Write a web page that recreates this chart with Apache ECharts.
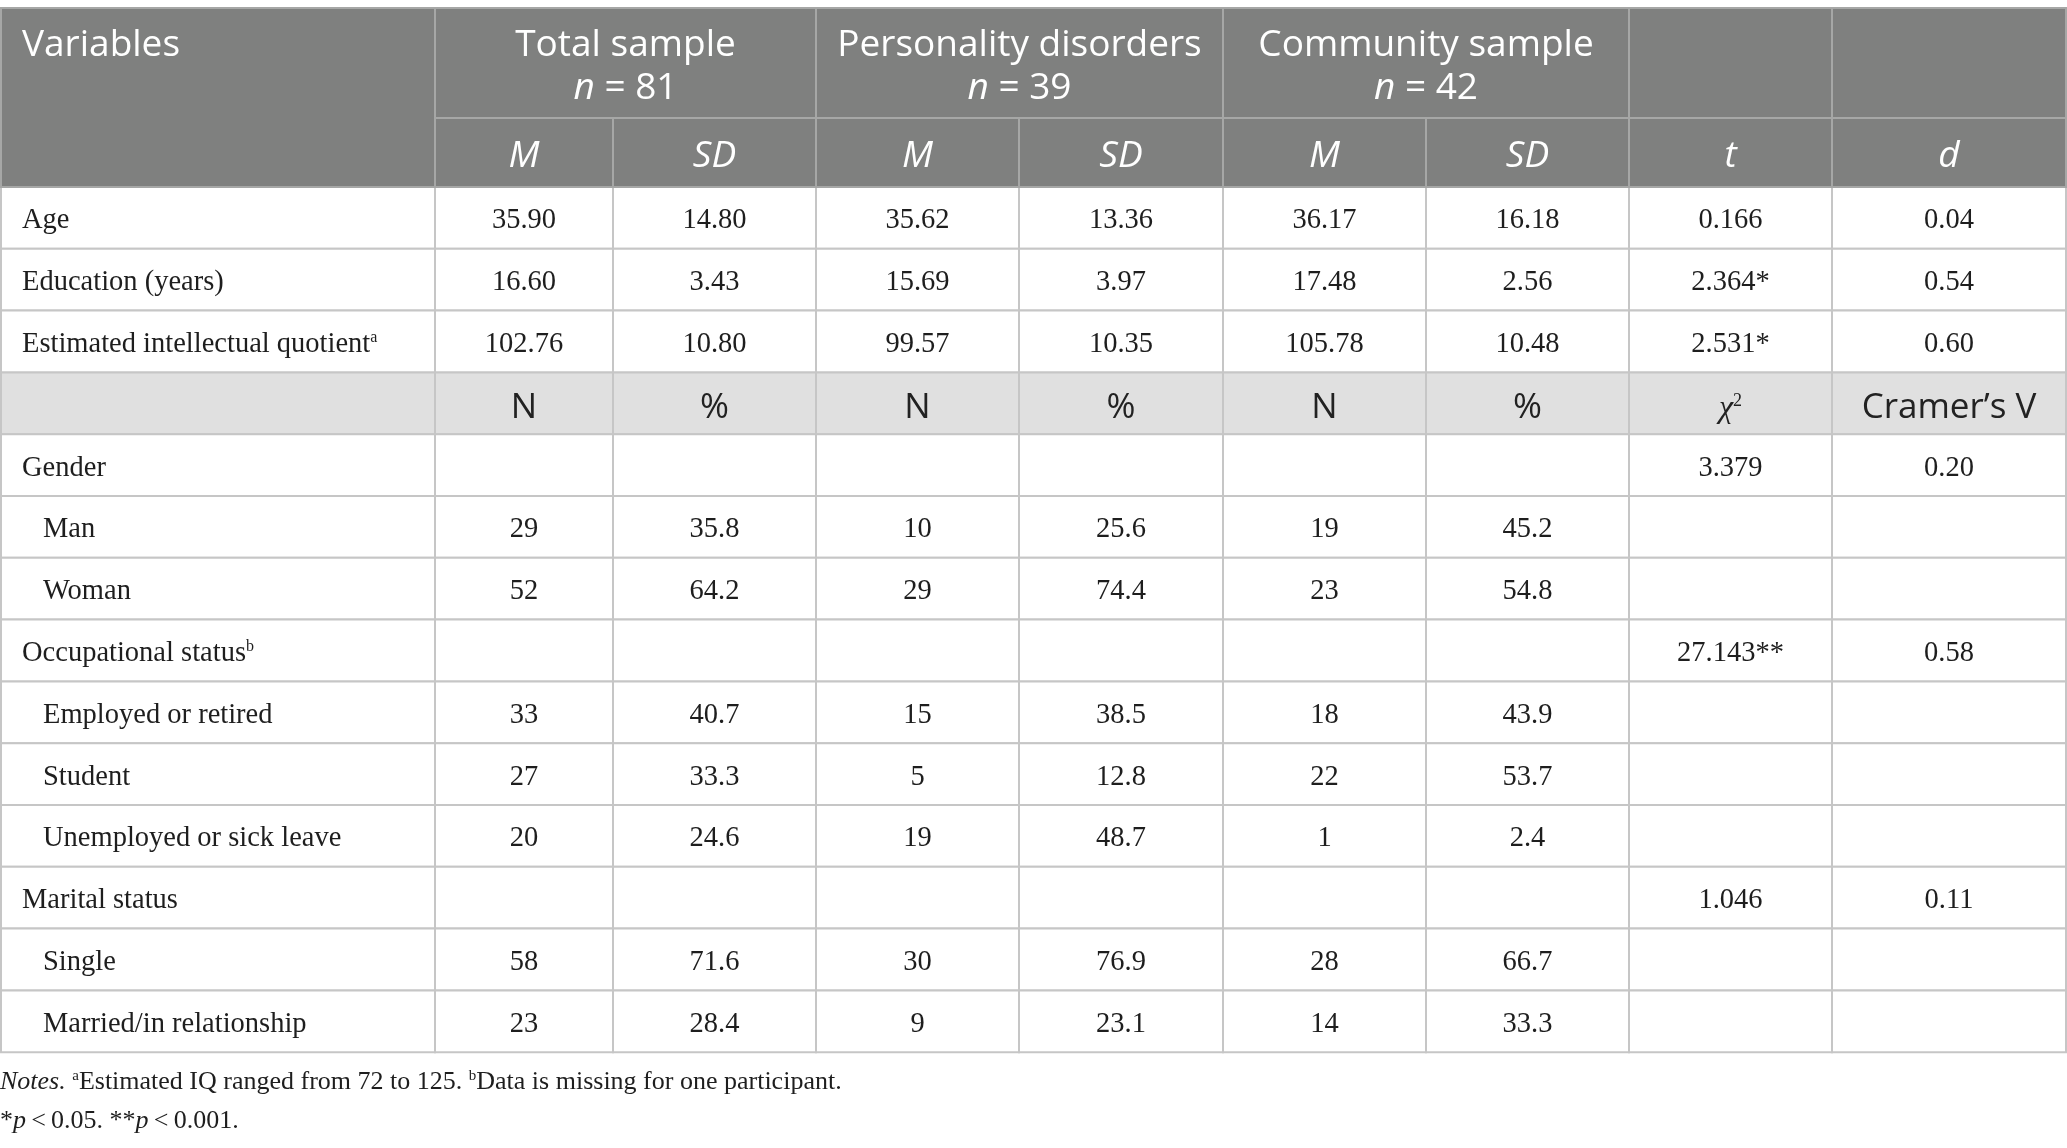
<!DOCTYPE html>
<html>
<head>
<meta charset="utf-8">
<script src="https://cdn.jsdelivr.net/npm/echarts@6/dist/echarts.min.js"></script>
<style>
html,body{margin:0;padding:0;background:#fff;}
#main{width:2067px;height:1148px;}
</style>
</head>
<body>
<div id="main"></div>
<script>
// ---- data ----
var groupHeads = ['Total sample\n{i|n} = 81', 'Personality disorders\n{i|n} = 39', 'Community sample\n{i|n} = 42']
var subHeads = ['M', 'SD', 'M', 'SD', 'M', 'SD', 't', 'd']
var contVars = ['Age', 'Education (years)', 'Estimated intellectual quotient{sup|a}']
var totalM = ['35.90', '16.60', '102.76']
var totalSD = ['14.80', '3.43', '10.80']
var pdM = ['35.62', '15.69', '99.57']
var pdSD = ['13.36', '3.97', '10.35']
var commM = ['36.17', '17.48', '105.78']
var commSD = ['16.18', '2.56', '10.48']
var tStat = ['0.166', '2.364*', '2.531*']
var cohenD = ['0.04', '0.54', '0.60']

var catHeads = ['N', '%', 'N', '%', 'N', '%', '{chi|χ}{sup2|2}', 'Cramer\u2019s V']
var catVars = ['Gender', 'Man', 'Woman', 'Occupational status{sup|b}', 'Employed or retired', 'Student', 'Unemployed or sick leave', 'Marital status', 'Single', 'Married/in relationship']
var catLevel = [0, 1, 1, 0, 1, 1, 1, 0, 1, 1]
var totalN = ['', '29', '52', '', '33', '27', '20', '', '58', '23']
var totalPct = ['', '35.8', '64.2', '', '40.7', '33.3', '24.6', '', '71.6', '28.4']
var pdN = ['', '10', '29', '', '15', '5', '19', '', '30', '9']
var pdPct = ['', '25.6', '74.4', '', '38.5', '12.8', '48.7', '', '76.9', '23.1']
var commN = ['', '19', '23', '', '18', '22', '1', '', '28', '14']
var commPct = ['', '45.2', '54.8', '', '43.9', '53.7', '2.4', '', '66.7', '33.3']
var chi2 = ['3.379', '', '', '27.143**', '', '', '', '1.046', '', '']
var cramerV = ['0.20', '', '', '0.58', '', '', '', '0.11', '', '']

var note1 = '{it|Notes.} {sup|a}Estimated IQ ranged from 72 to 125. {sup|b}Data is missing for one participant.'
var note2 = '*{it|p}\u2009<\u20090.05. **{it|p}\u2009<\u20090.001.'

// ---- layout ----
var colEdges = [0, 434, 612, 815, 1018, 1222, 1425, 1628, 1831, 2065]
var rowEdges = [0, 110, 179]
for (var k = 1; k <= 14; k++) {
    rowEdges.push(179 + 61.8 * k)
}
var SANS = '"Open Sans", "Noto Sans", sans-serif'
var SERIF = '"Liberation Serif", "DejaVu Serif", serif'

var cells = []
function addCell(c0, c1, r0, r1, text, kind, align, indent) {
    cells.push({c0: c0, c1: c1, r0: r0, r1: r1, text: text, kind: kind, align: align || 'center', indent: indent || 0})
}

// body rows first so header borders sit on top
for (var i = 0; i < contVars.length; i++) {
    var r = 2 + i
    var vals = [totalM[i], totalSD[i], pdM[i], pdSD[i], commM[i], commSD[i], tStat[i], cohenD[i]]
    addCell(0, 1, r, r + 1, contVars[i], 'body', 'left', 0)
    for (var j = 0; j < vals.length; j++) addCell(j + 1, j + 2, r, r + 1, vals[j], 'body')
}
addCell(0, 1, 5, 6, '', 'sub', 'left')
for (var j = 0; j < catHeads.length; j++) addCell(j + 1, j + 2, 5, 6, catHeads[j], 'sub')
for (var i = 0; i < catVars.length; i++) {
    var r = 6 + i
    var vals = [totalN[i], totalPct[i], pdN[i], pdPct[i], commN[i], commPct[i], chi2[i], cramerV[i]]
    addCell(0, 1, r, r + 1, catVars[i], 'body', 'left', catLevel[i])
    for (var j = 0; j < vals.length; j++) addCell(j + 1, j + 2, r, r + 1, vals[j], 'body')
}
// header
addCell(0, 1, 0, 2, 'Variables', 'head', 'left')
for (var g = 0; g < groupHeads.length; g++) addCell(1 + g * 2, 3 + g * 2, 0, 1, groupHeads[g], 'head')
addCell(7, 8, 0, 1, '', 'head')
addCell(8, 9, 0, 1, '', 'head')
for (var j = 0; j < subHeads.length; j++) addCell(j + 1, j + 2, 1, 2, subHeads[j], 'head2')

var cellData = cells.map(function (c) {
    return [colEdges[c.c0], colEdges[c.c1], rowEdges[c.r0], rowEdges[c.r1]]
})

var richSerif = {
    sup: {fontSize: 16, fontFamily: SERIF, verticalAlign: 'top', lineHeight: 22},
    sup2: {fontSize: 18, fontFamily: SERIF, verticalAlign: 'top', lineHeight: 24},
    chi: {fontSize: 32, fontFamily: SERIF, fontStyle: 'italic'},
    i: {fontStyle: 'italic', fontFamily: SANS, fontSize: 37, fill: '#ffffff'}
}

function renderItem(params, api) {
    var c = cells[params.dataIndex]
    var p0 = api.coord([api.value(0), api.value(2)])
    var p1 = api.coord([api.value(1), api.value(3)])
    var x0 = p0[0], y0 = p0[1], w = p1[0] - p0[0], h = p1[1] - p0[1]
    var bg = '#ffffff', stroke = '#c6c6c6'
    if (c.kind == 'head' || c.kind == 'head2') { bg = '#7f807f'; stroke = '#a6a7a6' }
    if (c.kind == 'sub') { bg = '#e0e0e0'; stroke = '#c6c6c6' }
    var children = [{
        type: 'rect',
        shape: {x: x0, y: y0, width: w, height: h},
        style: {fill: bg, stroke: stroke, lineWidth: 2}
    }]
    if (c.text !== '') {
        var st = {
            text: c.text,
            rich: richSerif,
            align: c.align,
            verticalAlign: 'middle'
        }
        var tx = c.align == 'left' ? x0 + 21 + c.indent * 21 : x0 + w / 2
        var ty = y0 + h / 2
        if (c.kind == 'head') {
            st.fontFamily = SANS; st.fontSize = 37; st.fill = '#ffffff'
            st.lineHeight = 43; st.verticalAlign = 'top'
            ty = y0 + 16
        } else if (c.kind == 'head2') {
            st.fontFamily = SANS; st.fontSize = 37; st.fill = '#ffffff'; st.fontStyle = 'italic'
            ty += 4
        } else if (c.kind == 'sub') {
            st.fontFamily = SANS; st.fontSize = 35; st.fill = '#222222'
            ty += 5
        } else {
            st.fontFamily = SERIF; st.fontSize = 28.5; st.fill = '#1e1e1e'
            ty += 3
        }
        children.push({type: 'text', x: tx, y: ty, style: st})
    }
    return {type: 'group', children: children}
}

var chartDom = document.getElementById('main')
var myChart = echarts.init(chartDom)
var option = {
    animation: false,
    grid: {left: 1, right: 1, top: 8, height: rowEdges[rowEdges.length - 1]},
    xAxis: {type: 'value', min: 0, max: colEdges[colEdges.length - 1], show: false},
    yAxis: {type: 'value', min: 0, max: rowEdges[rowEdges.length - 1], inverse: true, show: false},
    graphic: [
        {
            type: 'text', left: 0, top: 1069,
            style: {
                text: note1, fontFamily: SERIF, fontSize: 26, fill: '#1e1e1e',
                rich: {
                    it: {fontStyle: 'italic', fontFamily: SERIF, fontSize: 26},
                    sup: {fontSize: 15, fontFamily: SERIF, verticalAlign: 'top'}
                }
            }
        },
        {
            type: 'text', left: 0, top: 1108,
            style: {
                text: note2, fontFamily: SERIF, fontSize: 26, fill: '#1e1e1e',
                rich: {it: {fontStyle: 'italic', fontFamily: SERIF, fontSize: 26}}
            }
        }
    ],
    series: [{
        type: 'custom',
        renderItem: renderItem,
        data: cellData,
        encode: {x: [0, 1], y: [2, 3]}
    }]
}
option && myChart.setOption(option)
</script>
</body>
</html>
